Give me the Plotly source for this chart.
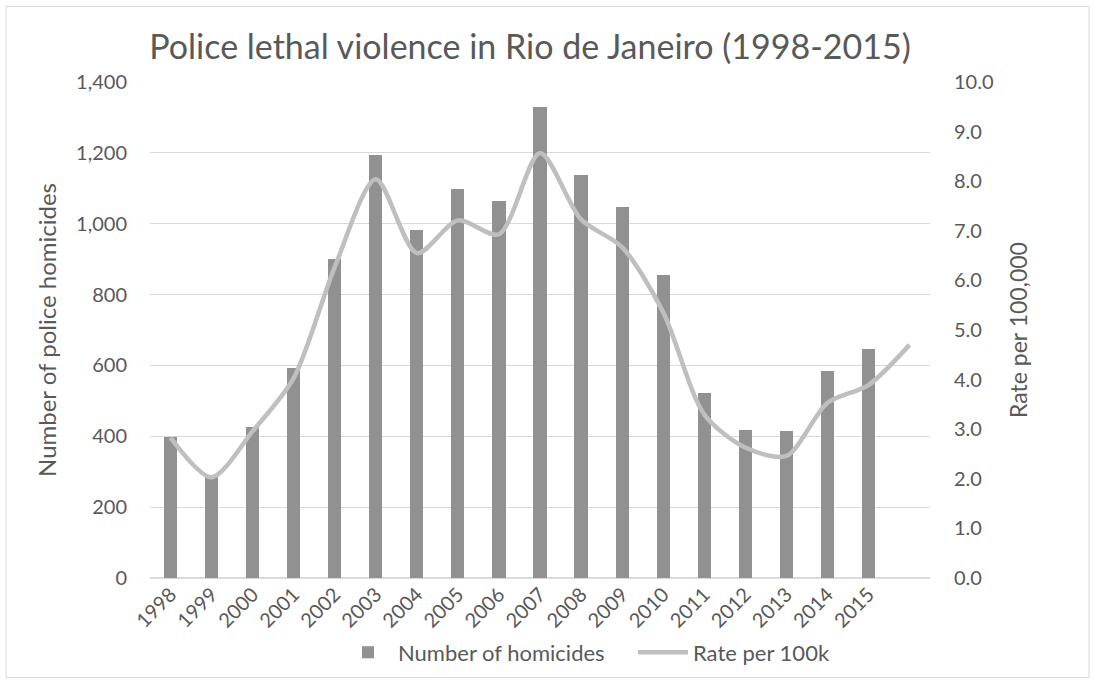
import plotly.graph_objects as go

# Police homicides in Rio de Janeiro, by year
years = ["1998", "1999", "2000", "2001", "2002", "2003", "2004", "2005", "2006",
         "2007", "2008", "2009", "2010", "2011", "2012", "2013", "2014", "2015"]
homicides = [397, 289, 427, 592, 900, 1195, 981, 1098, 1063,
             1330, 1137, 1048, 855, 523, 419, 416, 584, 645]
# Rate per 100k inhabitants (the series carries one extra trailing point)
rate_per_100k = [2.83, 2.03, 2.96, 4.03, 6.27, 8.04, 6.55, 7.21, 6.93,
                 8.57, 7.23, 6.67, 5.36, 3.30, 2.63, 2.46, 3.53, 3.89, 4.70]

left_ticks = [0, 200, 400, 600, 800, 1000, 1200, 1400]
right_ticks = [0, 1, 2, 3, 4, 5, 6, 7, 8, 9, 10]

FONT = "Lato"
TXT = "#595959"
GRID = "#d9d9d9"

W, H = 1094, 685
L, R, T, B = 150, 164, 82, 104
pw = W - L - R
ph = H - T - B


def px_x(x):
    return (x - L) / pw


def px_y(y):
    return (H - B - y) / ph


fig = go.Figure()
fig.add_trace(go.Bar(
    x=list(range(len(homicides))), y=homicides,
    name="Number of homicides",
    marker=dict(color="#919191", line=dict(width=0)),
    width=0.32,
))
fig.add_trace(go.Scatter(
    x=list(range(len(rate_per_100k))), y=rate_per_100k,
    name="Rate per 100k", yaxis="y2", mode="lines",
    line=dict(color="#bfbfbf", width=4.5, shape="spline", smoothing=0.8),
))

# thin frame around the whole chart
fig.add_shape(type="rect", xref="paper", yref="paper",
              x0=px_x(6), x1=px_x(W - 5), y0=px_y(H - 4), y1=px_y(6),
              line=dict(color=GRID, width=1), fillcolor="rgba(0,0,0,0)",
              layer="below")

fig.update_layout(
    width=W, height=H,
    margin=dict(l=L, r=R, t=T, b=B),
    paper_bgcolor="white", plot_bgcolor="white",
    font=dict(family=FONT, color=TXT, size=20),
    title=dict(text="Police lethal violence in Rio de Janeiro (1998-2015)",
               x=530 / W, xanchor="center", y=1 - 47 / H, yanchor="middle",
               font=dict(family=FONT, size=34, color=TXT)),
    bargap=0,
    showlegend=True,
    legend=dict(orientation="h", x=px_x(338), xanchor="left",
                y=px_y(656), yanchor="middle",
                font=dict(size=22, color=TXT), itemwidth=50,
                entrywidth=230, entrywidthmode="pixels"),
    xaxis=dict(
        range=[-0.5, len(rate_per_100k) - 0.5],
        tickmode="array", tickvals=list(range(len(years))), ticktext=years,
        tickangle=-45, showgrid=False, zeroline=False,
        showline=False, ticks="", tickfont=dict(size=20, color=TXT),
    ),
    yaxis=dict(
        range=[0, 1400], tickmode="array", tickvals=left_ticks,
        ticktext=[f"{v:,}" for v in left_ticks],
        showgrid=True, gridcolor=GRID, gridwidth=1,
        zeroline=True, zerolinecolor=GRID, zerolinewidth=1.5,
        ticks="", ticklabelstandoff=22, tickfont=dict(size=20, color=TXT),
        title=dict(text="Number of police homicides", font=dict(size=24, color=TXT),
                   standoff=12),
    ),
    yaxis2=dict(
        range=[0, 10], overlaying="y", side="right",
        tickmode="array", tickvals=right_ticks,
        ticktext=[f"{v:.1f}" for v in right_ticks],
        showgrid=False, zeroline=False, ticks="", ticklabelstandoff=23,
        tickfont=dict(size=20, color=TXT),
        title=dict(text="Rate per 100,000", font=dict(size=23, color=TXT),
                   standoff=18),
    ),
)

fig.write_html("out.html")
